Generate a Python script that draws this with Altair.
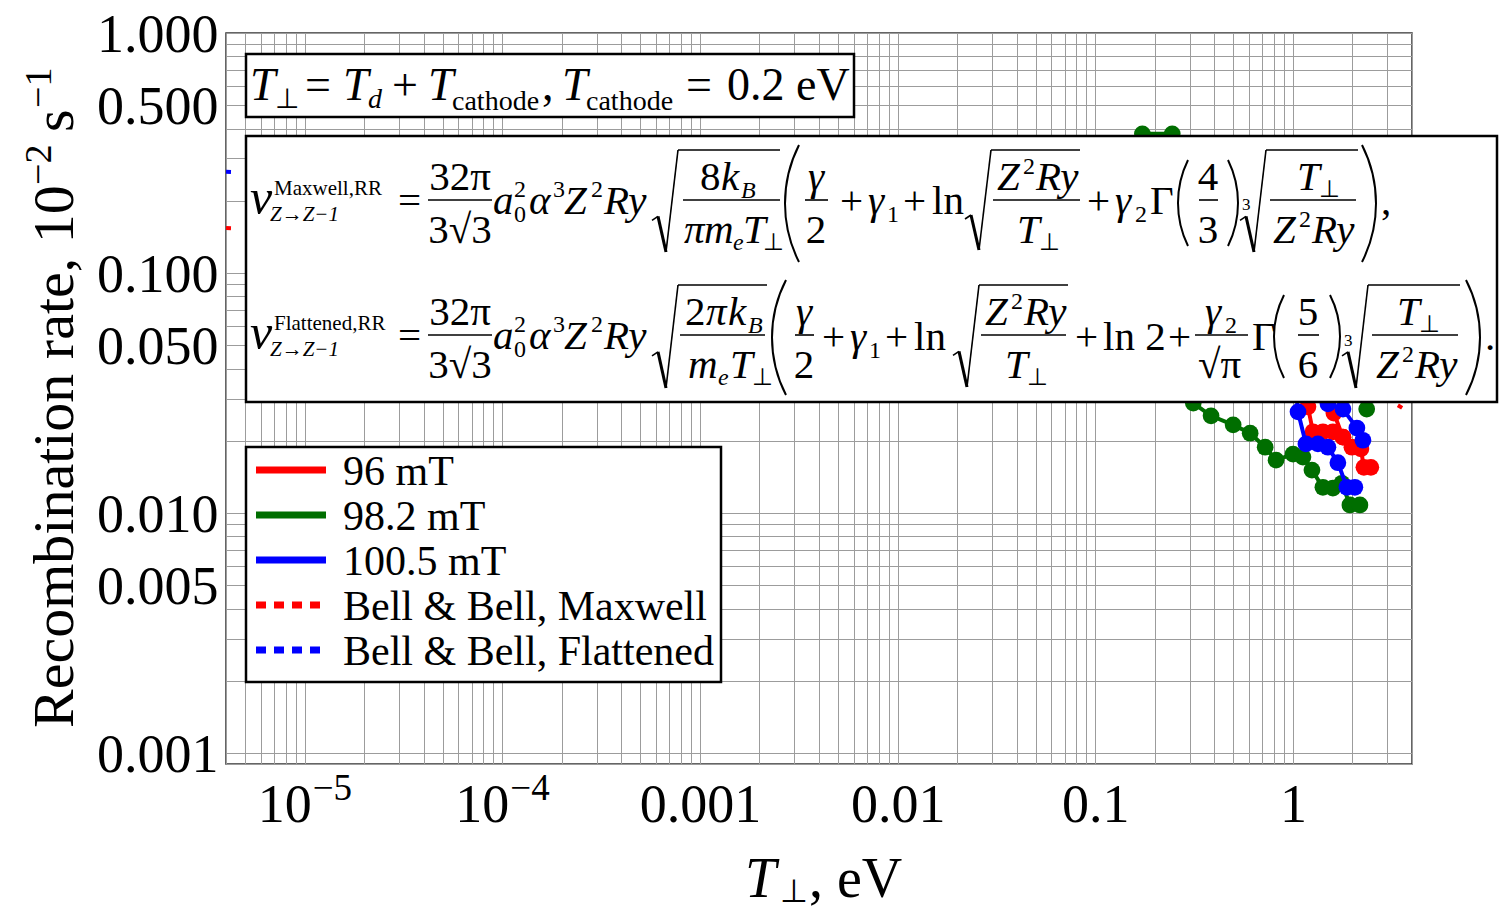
import math
import altair as alt
import pandas as pd

SERIF = "Liberation Serif"

# ---------------- data ----------------
series_names = ["96 mT", "98.2 mT", "100.5 mT"]
series_colors = ["#ff0000", "#006e00", "#0000ff"]

red_T    = [1.15, 1.19, 1.262, 1.417, 1.592, 1.789, 1.986, 2.205, 2.284, 2.477, 1.56, 1.61, 1.789]
red_rate = [0.045, 0.0277, 0.0218, 0.0218, 0.0218, 0.0207, 0.0188, 0.0185, 0.0155, 0.0155, 0.040, 0.0261, 0.0207]
red_seg  = [0] * 10 + [1] * 3

green_T    = [0.173, 0.245, 0.313, 0.385, 0.498, 0.607, 0.723, 0.821, 1.0, 1.123, 1.247, 1.417, 1.592, 1.767, 1.941, 2.18, 2.42, 2.36]
green_rate = [0.38, 0.38, 0.0287, 0.0254, 0.0233, 0.0215, 0.0188, 0.0166, 0.0176, 0.0171, 0.0151, 0.0128, 0.0127, 0.0133, 0.0108, 0.0108, 0.05, 0.0271]
green_seg  = [0] * 16 + [1] * 2

blue_T    = [1.0, 1.06, 1.163, 1.337, 1.502, 1.687, 1.874, 2.056, 1.45, 1.502, 1.789, 2.105, 2.258]
blue_rate = [0.045, 0.0264, 0.0194, 0.0194, 0.0188, 0.0162, 0.0128, 0.0128, 0.042, 0.0285, 0.0271, 0.0226, 0.0201]
blue_seg  = [0] * 8 + [1] * 5

bell_names = ["Bell & Bell, Maxwell", "Bell & Bell, Flattened"]
bell_colors = ["#ff0000", "#0000ff"]
bell_T = [4e-6, 1e-5, 1e-4, 1e-3, 1e-2, 1e-1, 1.0, 3.3, 4.0]
bell_maxwell = [0.154, 0.149, 0.136, 0.121, 0.104, 0.080, 0.050, 0.0285, 0.0259]
bell_flattened = [0.264, 0.256, 0.235, 0.210, 0.182, 0.140, 0.085, 0.050, 0.045]

x_major = [1e-3, 1e-2, 1e-1, 1.0]
x_major_labels = ["0.001", "0.01", "0.1", "1"]
x_pow_T = [1e-5, 1e-4]
x_pow_base = ["10", "10"]
x_pow_exp = ["−5", "−4"]
y_major = [1.0, 0.5, 0.1, 0.05, 0.01, 0.005, 0.001]

# ---------------- tables ----------------
rows = []
for name, Ts, rs, ss in zip(series_names, [red_T, green_T, blue_T],
                            [red_rate, green_rate, blue_rate], [red_seg, green_seg, blue_seg]):
    for i, (t, r, s) in enumerate(zip(Ts, rs, ss)):
        rows.append(dict(series=name, T=t, rate=r, seg=f"{name}-{s}", idx=i))
df = pd.DataFrame(rows)

brows = []
for name, vals in zip(bell_names, [bell_maxwell, bell_flattened]):
    for i, (t, r) in enumerate(zip(bell_T, vals)):
        brows.append(dict(series=name, T=t, rate=r, idx=i))
bdf = pd.DataFrame(brows)

pdf = pd.DataFrame({"T": x_pow_T, "base": x_pow_base, "exp": x_pow_exp})

# ---------------- layout ----------------
OX, OY = 226, 33
PW, PH = 1186, 731
XMIN, XMAX = 4e-6, 4.0
YMIN, YMAX = 0.0009, 1.0

x_grid = [m * 10.0 ** k for k in range(-6, 1) for m in range(1, 10)
          if XMIN * 0.999 <= m * 10.0 ** k <= XMAX * 1.001]
y_grid = [m * 10.0 ** k for k in range(-4, 1) for m in range(1, 10)
          if YMIN * 0.999 <= m * 10.0 ** k <= YMAX * 1.001]

x_expr = " : ".join(f"abs(datum.value/{v} - 1) < 1e-6 ? '{s}'" for v, s in zip(x_major, x_major_labels)) + " : ''"
y_expr = " : ".join(f"abs(datum.value/{v} - 1) < 1e-6 ? format(datum.value, '.3f')" for v in y_major) + " : ''"

GRID = "#9c9c9c"
XAX = alt.Axis(values=x_grid, labelExpr=x_expr, grid=True, gridColor=GRID, gridWidth=1,
               ticks=False, tickSize=0, domain=False, labelFont=SERIF, labelFontSize=54,
               labelColor="black", labelPadding=14, labelOverlap=False, labelFlush=False, title=None)
YAX = alt.Axis(values=y_grid, labelExpr=y_expr, grid=True, gridColor=GRID, gridWidth=1,
               ticks=False, tickSize=0, domain=False, labelFont=SERIF, labelFontSize=54,
               labelColor="black", labelPadding=8, labelOffset=2, labelOverlap=False, labelFlush=False, title=None)
xscale = alt.Scale(type="log", domain=[XMIN, XMAX], nice=False)
yscale = alt.Scale(type="log", domain=[YMIN, YMAX], nice=False)
X = alt.X("T:Q", scale=xscale, axis=XAX)
Y = alt.Y("rate:Q", scale=yscale, axis=YAX)
COL = alt.Color("series:N", scale=alt.Scale(domain=series_names + bell_names,
                                            range=series_colors + bell_colors), legend=None)

layers = []
layers.append(alt.Chart(bdf).mark_line(strokeWidth=4, strokeDash=[5, 16], clip=True).encode(
    x=X, y=Y, color=COL, detail="series:N", order="idx:Q"))
for name in series_names:
    base = alt.Chart(df).transform_filter(alt.datum.series == name)
    layers.append(base.mark_line(strokeWidth=4, clip=True).encode(
        x=X, y=Y, color=COL, detail="seg:N", order="idx:Q"))
    layers.append(base.mark_circle(size=280, opacity=1, clip=True).encode(x=X, y=Y, color=COL))

# power-of-ten tick labels (base + raised exponent), placed through the x scale
layers.append(alt.Chart(pdf).mark_text(font=SERIF, fontSize=54, align="right", baseline="alphabetic",
                                       dx=7, color="black").encode(
    x=X, y=alt.value(822 - OY), text="base:N"))
layers.append(alt.Chart(pdf).mark_text(font=SERIF, fontSize=37, align="left", baseline="alphabetic",
                                       dx=8, color="black").encode(
    x=X, y=alt.value(800 - OY), text="exp:N"))

one = pd.DataFrame({"k": [0]})


def txt(s, x, y, size=41, italic=False, align="left", baseline="alphabetic", angle=None):
    kw = dict(text=s, font=SERIF, fontSize=size, fontStyle="italic" if italic else "normal",
              align=align, baseline=baseline, color="black")
    if angle is not None:
        kw["angle"] = angle
    return alt.Chart(one).mark_text(**kw).encode(x=alt.value(x - OX), y=alt.value(y - OY))


def seg(x1, y1, x2, y2, w=1.6, color="black", dash=None):
    kw = dict(color=color, strokeWidth=w)
    if dash:
        kw["strokeDash"] = dash
    return alt.Chart(one).mark_rule(**kw).encode(
        x=alt.value(x1 - OX), y=alt.value(y1 - OY), x2=alt.value(x2 - OX), y2=alt.value(y2 - OY))


def box(x1, y1, x2, y2, w=2.5):
    return alt.Chart(one).mark_rect(fill="white", stroke="black", strokeWidth=w).encode(
        x=alt.value(x1 - OX), y=alt.value(y1 - OY), x2=alt.value(x2 - OX), y2=alt.value(y2 - OY))


def paren(x_edge, ytop, ybot, bulge, left=True, w=2.0):
    h = (ybot - ytop) / 2
    R = (h * h + bulge * bulge) / (2 * bulge)
    half = math.asin(h / R)
    cy = (ytop + ybot) / 2
    if left:
        cx, mid = x_edge + R, 1.5 * math.pi
    else:
        cx, mid = x_edge - R, 0.5 * math.pi
    return alt.Chart(one).mark_arc(theta=mid - half, theta2=mid + half, innerRadius=R, outerRadius=R,
                                   filled=False, stroke="black", strokeWidth=w).encode(
        x=alt.value(cx - OX), y=alt.value(cy - OY))


def radical(x0, x1, ytop, ybot, index=None, w=1.6):
    ya = ybot - (ybot - ytop) * 0.35
    out = [seg(x0, ya + 4, x0 + 6, ya, w), seg(x0 + 6, ya, x0 + 14, ybot, w * 1.9),
           seg(x0 + 14, ybot, x0 + 26, ytop, w), seg(x0 + 26, ytop, x1, ytop, w)]
    if index:
        out.append(txt(index, x0 + 2, ya - 6, 17))
    return out


ann = []
# ---- title box ----
ann.append(box(246, 54, 854, 117))
ann += [txt("T", 250, 100, 46, True), txt("⊥", 275, 108, 28), txt("=", 305, 100, 46),
        txt("T", 343, 100, 46, True), txt("d", 368, 108, 28, True), txt("+", 392, 100, 46),
        txt("T", 428, 100, 46, True), txt("cathode", 452, 110, 28), txt(",", 542, 100, 46),
        txt("T", 562, 100, 46, True), txt("cathode", 586, 110, 28), txt("=", 686, 100, 46),
        txt("0.2 eV", 727, 100, 46)]

# ---- formula box ----
ann.append(box(246, 136, 1497, 402))


def prefix(dy, sup):
    B = 214 + dy
    return [txt("ν", 250, B, 50, True), txt(sup, 274, 195 + dy, 21), txt("Z→Z−1", 270, 221 + dy, 21, True),
            txt("=", 398, B, 41), txt("32π", 460, 190 + dy, 41, align="center"), seg(428, 200 + dy, 492, 200 + dy),
            txt("3√3", 460, 243 + dy, 41, align="center"),
            txt("a", 493, B, 41, True), txt("2", 514, B - 17, 24), txt("0", 514, B + 8, 24),
            txt("α", 529, B, 41, True), txt("3", 553, B - 17, 24),
            txt("Z", 564, B, 41, True), txt("2", 591, B - 17, 24), txt("Ry", 604, B, 41, True)]


ann += prefix(0, "Maxwell,RR")
ann += radical(652, 780, 150, 252)
ann += [txt("8", 700, 190), txt("k", 721, 190, italic=True), txt("B", 741, 198, 24, True),
        seg(683, 200, 780, 200),
        txt("π", 684, 243, italic=True), txt("m", 704, 243, italic=True), txt("e", 733, 250, 24, True),
        txt("T", 743, 243, italic=True), txt("⊥", 763, 250, 24),
        paren(785, 145, 262, 14, True),
        txt("γ", 816, 190, italic=True, align="center"), seg(805, 200, 828, 200), txt("2", 816, 243, align="center"),
        txt("+", 840, 214), txt("γ", 868, 214, italic=True), txt("1", 887, 222, 24), txt("+", 903, 214),
        txt("ln", 932, 214)]
ann += radical(965, 1080, 150, 250)
ann += [txt("Z", 997, 190, italic=True), txt("2", 1023, 174, 24), txt("Ry", 1036, 190, italic=True),
        seg(993, 200, 1080, 200), txt("T", 1017, 243, italic=True), txt("⊥", 1039, 250, 24),
        txt("+", 1087, 214), txt("γ", 1115, 214, italic=True), txt("2", 1135, 222, 24), txt("Γ", 1150, 214),
        paren(1178, 160, 246, 10, True), txt("4", 1208, 190, align="center"), seg(1199, 200, 1218, 200),
        txt("3", 1208, 243, align="center"), paren(1238, 160, 246, 10, False)]
ann += radical(1240, 1358, 150, 252, "3")
ann += [txt("T", 1297, 190, italic=True), txt("⊥", 1319, 197, 24), seg(1270, 200, 1356, 200),
        txt("Z", 1273, 243, italic=True), txt("2", 1299, 227, 24), txt("Ry", 1312, 243, italic=True),
        paren(1376, 145, 262, 14, False), txt(",", 1381, 214)]

ann += prefix(135, "Flattened,RR")
ann += radical(652, 767, 285, 388)
ann += [txt("2", 685, 325), txt("π", 706, 325, italic=True), txt("k", 728, 325, italic=True),
        txt("B", 748, 333, 24, True), seg(680, 335, 765, 335),
        txt("m", 688, 378, italic=True), txt("e", 718, 385, 24, True), txt("T", 730, 378, italic=True),
        txt("⊥", 752, 385, 24),
        paren(772, 280, 395, 14, True),
        txt("γ", 804, 325, italic=True, align="center"), seg(795, 335, 814, 335), txt("2", 804, 378, align="center"),
        txt("+", 822, 350), txt("γ", 850, 350, italic=True), txt("1", 869, 358, 24), txt("+", 885, 350),
        txt("ln", 914, 350)]
ann += radical(953, 1068, 285, 387)
ann += [txt("Z", 985, 325, italic=True), txt("2", 1011, 309, 24), txt("Ry", 1024, 325, italic=True),
        seg(981, 335, 1066, 335), txt("T", 1005, 378, italic=True), txt("⊥", 1027, 385, 24),
        txt("+", 1075, 350), txt("ln 2", 1103, 350), txt("+", 1168, 350),
        txt("γ", 1205, 325, italic=True), txt("2", 1225, 333, 24), seg(1195, 335, 1248, 335),
        txt("√π", 1198, 378), txt("Γ", 1252, 350),
        paren(1274, 295, 378, 10, True), txt("5", 1308, 325, align="center"), seg(1298, 335, 1319, 335),
        txt("6", 1308, 378, align="center"), paren(1340, 295, 378, 10, False)]
ann += radical(1342, 1460, 285, 388, "3")
ann += [txt("T", 1397, 325, italic=True), txt("⊥", 1419, 332, 24), seg(1372, 335, 1458, 335),
        txt("Z", 1376, 378, italic=True), txt("2", 1402, 362, 24), txt("Ry", 1415, 378, italic=True),
        paren(1480, 280, 395, 14, False), txt(".", 1485, 350)]

# ---- legend ----
legend_labels = series_names + bell_names
legend_colors = series_colors + bell_colors
legend_dashed = [False, False, False, True, True]
ann.append(box(246, 447, 721, 682))
for i, (lab, c, d) in enumerate(zip(legend_labels, legend_colors, legend_dashed)):
    yy = 470 + 45 * i
    ann.append(seg(256, yy, 326, yy, w=7, color=c, dash=[10, 8] if d else None))
    ann.append(txt(lab, 343, yy + 15, 42))

# ---- axis titles ----
ann += [txt("T", 745, 897, 56, True), txt("⊥", 780, 902, 32), txt(", eV", 809, 897, 56)]
ann += [txt("Recombination rate, 10", 73, 728, 58, angle=270),
        txt("−2", 51, 185, 38, angle=270),
        txt("s", 73, 132, 58, angle=270),
        txt("−1", 51, 108, 38, angle=270)]

chart = alt.layer(*(layers + ann)).properties(
    width=PW, height=PH,
    padding={"left": OX, "top": OY, "right": 1499 - OX - PW, "bottom": 909 - OY - PH},
    autosize=alt.AutoSizeParams(type="none"),
).configure_view(stroke="#333333", strokeWidth=1.5)

chart.save("out.html", embed_options={"renderer": "svg", "actions": False})
